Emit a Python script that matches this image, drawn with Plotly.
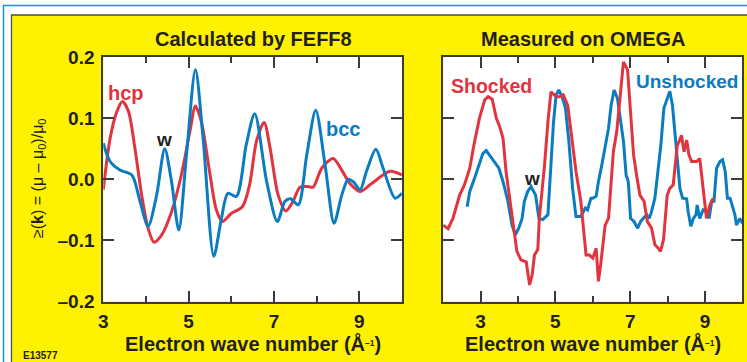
import plotly.graph_objects as go

# ---------------- data ----------------
hcp_k = [3.00, 3.16, 3.32, 3.45, 3.59, 3.74, 3.90, 4.05, 4.19, 4.37, 4.60, 4.83, 5.03, 5.16, 5.30,
         5.49, 5.65, 5.79, 6.00, 6.26, 6.43, 6.59, 6.77, 6.91, 7.10, 7.28, 7.45, 7.61, 7.80, 7.92,
         8.12, 8.39, 8.59, 8.78, 9.02, 9.29, 9.72, 10.0]
hcp_chi = [-0.017, 0.067, 0.111, 0.127, 0.111, 0.051, -0.026, -0.080, -0.103, -0.091, -0.053, 0.007,
           0.078, 0.120, 0.094, 0.013, -0.050, -0.069, -0.056, -0.045, -0.009, 0.062, 0.093, 0.051,
           -0.026, -0.052, -0.036, -0.013, -0.012, -0.013, 0.018, 0.034, 0.015, -0.007, -0.020,
           -0.007, 0.013, 0.007]

bcc_k = [3.00, 3.16, 3.39, 3.67, 3.86, 4.05, 4.25, 4.44, 4.60, 4.77, 4.95, 5.16, 5.34, 5.59, 5.77,
         5.92, 6.12, 6.35, 6.55, 6.83, 7.08, 7.26, 7.39, 7.57, 7.77, 7.98, 8.20, 8.41, 8.59, 8.74,
         8.86, 9.02, 9.17, 9.39, 9.56, 9.84, 10.0]
bcc_chi = [0.059, 0.029, 0.015, 0.007, -0.036, -0.077, -0.026, 0.050, -0.004, -0.083, 0.040, 0.179,
           0.067, -0.126, -0.064, -0.023, -0.028, 0.056, 0.107, -0.004, -0.069, -0.036, -0.032,
           -0.042, 0.040, 0.113, 0.023, -0.072, -0.026, 0.000, -0.004, -0.017, 0.013, 0.049, 0.018,
           -0.031, -0.023]

shocked_k = [2.00, 2.13, 2.26, 2.44, 2.57, 2.71, 2.84, 2.97, 3.11, 3.20, 3.31, 3.42, 3.51, 3.60,
             3.68, 3.77, 3.86, 3.97, 4.08, 4.22, 4.31, 4.38, 4.44, 4.53, 4.57, 4.71, 4.80, 4.88,
             4.97, 5.04, 5.11, 5.21, 5.33, 5.46, 5.55, 5.68, 5.82, 5.91, 6.00, 6.09, 6.15, 6.21,
             6.33, 6.42, 6.55, 6.64, 6.73, 6.82, 6.93, 7.00, 7.09, 7.17, 7.26, 7.37, 7.46, 7.57,
             7.66, 7.75, 7.81, 7.89, 7.99, 8.06, 8.15, 8.26, 8.31, 8.37, 8.44, 8.51, 8.57, 8.64,
             8.78, 8.86, 8.95, 9.04, 9.13, 9.22]
shocked_chi = [-0.075, -0.081, -0.064, -0.026, -0.009, 0.018, 0.062, 0.100, 0.130, 0.135, 0.131,
               0.100, 0.086, 0.067, 0.013, -0.026, -0.069, -0.118, -0.132, -0.135, -0.173, -0.156,
               -0.124, -0.115, -0.064, 0.023, 0.094, 0.143, 0.138, 0.135, 0.135, 0.138, 0.121,
               0.051, 0.013, -0.036, -0.124, -0.124, -0.129, -0.113, -0.167, -0.140, -0.075,
               -0.064, 0.045, 0.078, 0.132, 0.192, 0.179, 0.116, 0.040, 0.007, -0.026, -0.036,
               -0.069, -0.080, -0.107, -0.113, -0.118, -0.099, -0.026, -0.015, -0.009, 0.056,
               0.062, 0.072, 0.045, 0.064, 0.040, 0.029, 0.029, 0.034, -0.015, -0.064, -0.042,
               -0.031]

unshocked_k = [2.64, 2.71, 2.84, 2.96, 3.06, 3.15, 3.26, 3.37, 3.49, 3.60, 3.73, 3.84, 3.93, 4.02,
               4.11, 4.17, 4.26, 4.35, 4.47, 4.56, 4.66, 4.80, 4.87, 4.95, 5.02, 5.09, 5.18, 5.27,
               5.36, 5.46, 5.55, 5.68, 5.80, 5.86, 5.95, 6.00, 6.09, 6.15, 6.24, 6.33, 6.42, 6.49,
               6.57, 6.66, 6.75, 6.82, 6.89, 6.95, 7.01, 7.10, 7.20, 7.28, 7.35, 7.44, 7.51, 7.57,
               7.66, 7.75, 7.82, 7.90, 7.99, 8.06, 8.13, 8.20, 8.26, 8.33, 8.40, 8.51, 8.55, 8.62,
               8.69, 8.76, 8.79, 8.86, 8.95, 9.04, 9.11, 9.18, 9.24, 9.31, 9.40, 9.47, 9.54, 9.60,
               9.67, 9.74, 9.80, 9.84, 9.93, 10.0]
unshocked_chi = [-0.045, -0.020, 0.002, 0.023, 0.042, 0.047, 0.037, 0.029, 0.018, -0.004, -0.036,
                 -0.075, -0.091, -0.080, -0.064, -0.036, -0.020, -0.012, -0.026, -0.064, -0.066,
                 -0.058, 0.013, 0.094, 0.138, 0.146, 0.135, 0.116, 0.062, -0.015, -0.061, -0.061,
                 -0.047, -0.050, -0.031, -0.031, -0.028, -0.004, 0.023, 0.051, 0.083, 0.121, 0.146,
                 0.132, 0.094, 0.062, 0.007, -0.004, -0.064, -0.069, -0.080, -0.069, -0.064, -0.058,
                 -0.064, -0.053, -0.031, 0.018, 0.056, 0.116, 0.132, 0.144, 0.121, 0.072, 0.023,
                 -0.015, -0.031, -0.032, -0.053, -0.077, -0.064, -0.058, -0.042, -0.064, -0.050,
                 -0.053, -0.064, -0.036, -0.036, 0.018, 0.029, 0.032, 0.013, -0.031, -0.031, -0.047,
                 -0.058, -0.075, -0.064, -0.072]

y_tickvals = [-0.2, -0.1, 0.0, 0.1, 0.2]
y_ticktext = ["\u20130.2", "\u20130.1", "0.0", "0.1", "0.2"]
x_tickvals = [3, 5, 7, 9]
x_ticktext = ["3", "5", "7", "9"]

# ---------------- styling ----------------
W, H = 747, 362
RED = "#e1343f"
BLUE = "#0a7cc2"
YELLOW = "#fff200"
DARK = "#231f20"
AX = "#3c3c3c"
FONT = "Liberation Sans"


def px(x):
    return x / W


def py(y):
    return 1 - y / H


fig = go.Figure()
fig.add_trace(go.Scatter(x=hcp_k, y=hcp_chi, mode="lines", line=dict(color=RED, width=3, shape="spline", smoothing=0.8),
                         xaxis="x", yaxis="y", showlegend=False, hoverinfo="skip"))
fig.add_trace(go.Scatter(x=bcc_k, y=bcc_chi, mode="lines", line=dict(color=BLUE, width=3, shape="spline", smoothing=0.8),
                         xaxis="x", yaxis="y", showlegend=False, hoverinfo="skip"))
fig.add_trace(go.Scatter(x=unshocked_k, y=unshocked_chi, mode="lines", line=dict(color=BLUE, width=3),
                         xaxis="x2", yaxis="y2", showlegend=False, hoverinfo="skip"))
fig.add_trace(go.Scatter(x=shocked_k, y=shocked_chi, mode="lines", line=dict(color=RED, width=3),
                         xaxis="x2", yaxis="y2", showlegend=False, hoverinfo="skip"))

# domains (pixel measured)
ytop, ybot = 57.0, 301.5
xl0, xl1 = 103.3, 401.9
xr0, xr1 = 443.2, 742.4

common_x = dict(showline=True, linecolor=AX, linewidth=2, mirror="ticks", ticks="inside", ticklen=11,
                tickwidth=1.5, tickcolor=AX, showgrid=False, zeroline=False, automargin=False,
                tickvals=x_tickvals, ticktext=x_ticktext, ticklabelstandoff=2,
                tickfont=dict(family=FONT, size=19, color=DARK, weight="bold"),
                minor=dict(ticks="inside", ticklen=6, tickwidth=1.5, tickcolor=AX, dtick=1, tick0=2, showgrid=False),
                fixedrange=True)
common_y = dict(showline=True, linecolor=AX, linewidth=2, mirror="ticks", ticks="inside", ticklen=11,
                tickwidth=1.5, tickcolor=AX, showgrid=False, zeroline=False, range=[-0.2, 0.2], automargin=False,
                tickvals=y_tickvals, ticktext=y_ticktext, ticklabelstandoff=3,
                tickfont=dict(family=FONT, size=19, color=DARK, weight="bold"), fixedrange=True)

fig.update_layout(
    width=W, height=H, autosize=False,
    margin=dict(l=0, r=0, t=0, b=0, pad=0, autoexpand=False),
    paper_bgcolor="white", plot_bgcolor="white", showlegend=False,
    xaxis=dict(common_x, domain=[px(xl0), px(xl1)], range=[3, 10], anchor="y"),
    yaxis=dict(common_y, domain=[py(ybot), py(ytop)], anchor="x"),
    xaxis2=dict(common_x, domain=[px(xr0), px(xr1)], range=[2, 10], anchor="y2"),
    yaxis2=dict(common_y, domain=[py(ybot), py(ytop)], anchor="x2", showticklabels=False),
)

shapes = [
    # outer blue frame lines
    dict(type="line", xref="paper", yref="paper", x0=px(3), x1=px(W + 5), y0=py(5.5), y1=py(5.5),
         line=dict(color="#1b8fd6", width=1.5), layer="below"),
    dict(type="line", xref="paper", yref="paper", x0=px(3.5), x1=px(3.5), y0=py(5), y1=py(H + 5),
         line=dict(color="#1b8fd6", width=1.5), layer="below"),
    # yellow panel
    dict(type="rect", xref="paper", yref="paper", x0=px(11.5), x1=px(W + 10), y0=py(H + 10), y1=py(15),
         fillcolor=YELLOW, line=dict(color="#4d4d4d", width=1.3), layer="below"),
    # white plot areas
    dict(type="rect", xref="paper", yref="paper", x0=px(xl0), x1=px(xl1), y0=py(ybot), y1=py(ytop),
         fillcolor="white", line=dict(width=0), layer="below"),
    dict(type="rect", xref="paper", yref="paper", x0=px(xr0), x1=px(xr1), y0=py(ybot), y1=py(ytop),
         fillcolor="white", line=dict(width=0), layer="below"),
]
fig.update_layout(shapes=shapes)


def ann(text, x, y, size, color=DARK, bold=True, angle=0):
    return dict(text=text, x=px(x), y=py(y), xref="paper", yref="paper", xanchor="center", yanchor="middle",
                showarrow=False, textangle=angle,
                font=dict(family=FONT, size=size, color=color, weight="bold" if bold else "normal"))


xtitle = "Electron wave number (Å<span style='font-size:12px'><sup>\u20131</sup></span>)"
annotations = [
    ann("Calculated by FEFF8", 253, 39, 20),
    ann("Measured on OMEGA", 582.5, 39, 20),
    ann(xtitle, 253, 343.5, 20),
    ann(xtitle, 592.5, 343.5, 20),
    ann("\u2265(<b>k</b>) = (\u03bc \u2013 \u03bc<sub>0</sub>)/\u03bc<sub>0</sub>", 38, 178, 16, bold=False, angle=-90),
    ann("E13577", 40, 355, 10),
    ann("hcp", 126, 93, 20, color=RED),
    ann("w", 164, 139, 19),
    ann("bcc", 342.5, 129, 20, color=BLUE),
    ann("Shocked", 491.5, 86, 19.5, color=RED),
    ann("w", 531.5, 178, 19),
    ann("Unshocked", 687, 82, 19, color=BLUE),
]
fig.update_layout(annotations=annotations)

post = ("document.documentElement.style.margin='0';document.documentElement.style.overflow='hidden';"
        "document.body.style.margin='0';document.body.style.padding='0';document.body.style.overflow='hidden';")
fig.write_html("out.html", post_script=post, config={"displayModeBar": False})
